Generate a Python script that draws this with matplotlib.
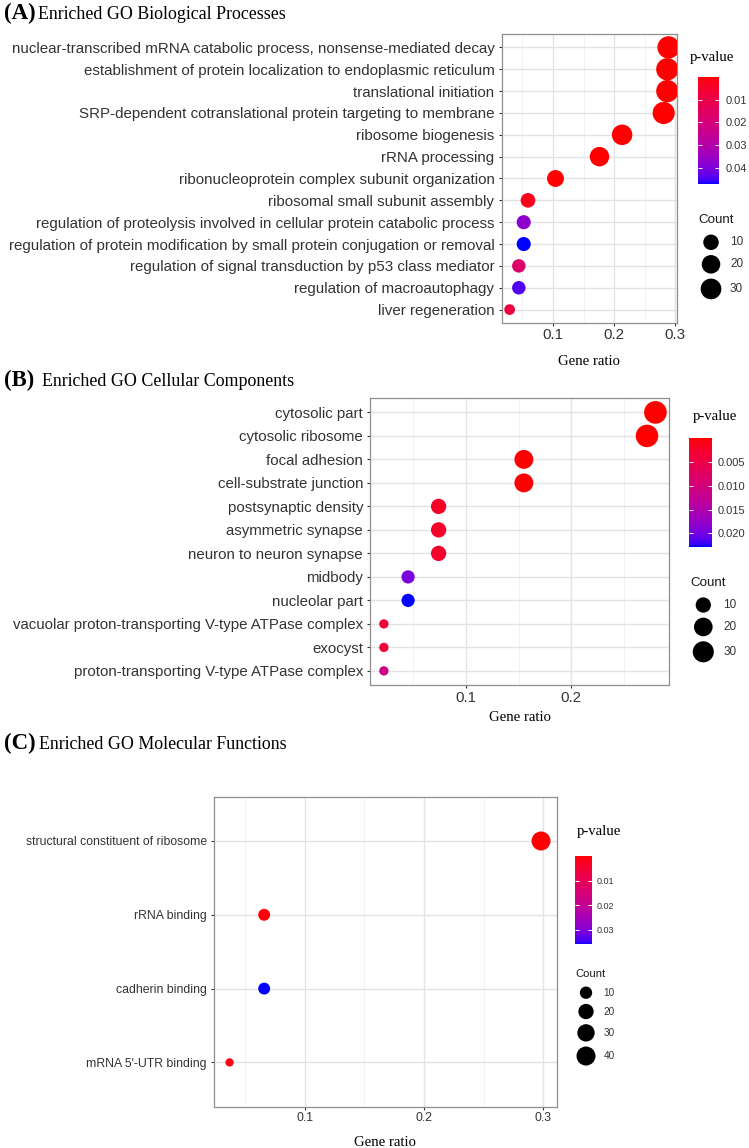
import numpy as np
import matplotlib
matplotlib.use('Agg')
import matplotlib.pyplot as plt
from matplotlib.colors import ListedColormap
from matplotlib.ticker import MultipleLocator, FormatStrFormatter

plt.rcParams['font.family'] = 'Liberation Sans'

W, H, DPI = 749, 1148, 100

# ---------------- data ----------------
# (A) biological processes, top to bottom
bp_terms = ['nuclear-transcribed mRNA catabolic process, nonsense-mediated decay',
            'establishment of protein localization to endoplasmic reticulum',
            'translational initiation',
            'SRP-dependent cotranslational protein targeting to membrane',
            'ribosome biogenesis',
            'rRNA processing',
            'ribonucleoprotein complex subunit organization',
            'ribosomal small subunit assembly',
            'regulation of proteolysis involved in cellular protein catabolic process',
            'regulation of protein modification by small protein conjugation or removal',
            'regulation of signal transduction by p53 class mediator',
            'regulation of macroautophagy',
            'liver regeneration']
bp_ratio = [0.289, 0.287, 0.287, 0.281, 0.213, 0.176, 0.104, 0.059, 0.052, 0.052, 0.044, 0.044, 0.029]
bp_count = [39, 39, 39, 38, 29, 24, 14, 8, 7, 7, 6, 6, 4]
bp_pval = [1e-20, 1e-18, 1e-17, 1e-16, 1e-9, 1e-7, 1e-4, 0.0025, 0.037, 0.047, 0.017, 0.044, 0.0085]
bp_cbar_ticks = [0.01, 0.02, 0.03, 0.04]
bp_size_legend = [10, 20, 30]

# (B) cellular components
cc_terms = ['cytosolic part', 'cytosolic ribosome', 'focal adhesion', 'cell-substrate junction',
            'postsynaptic density', 'asymmetric synapse', 'neuron to neuron synapse', 'midbody',
            'nucleolar part', 'vacuolar proton-transporting V-type ATPase complex', 'exocyst',
            'proton-transporting V-type ATPase complex']
cc_ratio = [0.280, 0.272, 0.155, 0.155, 0.074, 0.074, 0.074, 0.045, 0.045, 0.022, 0.022, 0.022]
cc_count = [38, 37, 21, 21, 10, 10, 10, 6, 6, 3, 3, 3]
cc_pval = [1e-15, 1e-14, 1e-6, 1e-6, 0.0022, 0.0023, 0.0024, 0.0195, 0.0228, 0.0035, 0.0037, 0.0112]
cc_cbar_ticks = [0.005, 0.010, 0.015, 0.020]
cc_size_legend = [10, 20, 30]

# (C) molecular functions
mf_terms = ['structural constituent of ribosome', 'rRNA binding', 'cadherin binding',
            "mRNA 5'-UTR binding"]
mf_ratio = [0.298, 0.066, 0.066, 0.037]
mf_count = [40, 9, 9, 5]
mf_pval = [1e-25, 0.0008, 0.0358, 0.001]
mf_cbar_ticks = [0.01, 0.02, 0.03]
mf_size_legend = [10, 20, 30, 40]


# ---------------- red -> blue gradient interpolated in CIELAB (like ggplot) ----------------
M = np.array([[0.4124, 0.3576, 0.1805], [0.2126, 0.7152, 0.0722], [0.0193, 0.1192, 0.9505]])
WHITE = np.array([0.95047, 1.0, 1.08883])
D = 6 / 29


def to_lab(rgb):
    c = np.asarray(rgb, float)
    lin = np.where(c <= 0.04045, c / 12.92, ((c + 0.055) / 1.055) ** 2.4)
    xyz = M @ lin / WHITE
    f = np.where(xyz > D ** 3, np.cbrt(xyz), xyz / (3 * D * D) + 4 / 29)
    return np.array([116 * f[1] - 16, 500 * (f[0] - f[1]), 200 * (f[1] - f[2])])


def from_lab(lab):
    fy = (lab[0] + 16) / 116
    f = np.array([fy + lab[1] / 500, fy, fy - lab[2] / 200])
    xyz = np.where(f > D, f ** 3, 3 * D * D * (f - 4 / 29)) * WHITE
    lin = np.clip(np.linalg.inv(M) @ xyz, 0, 1)
    c = np.where(lin <= 0.0031308, 12.92 * lin, 1.055 * lin ** (1 / 2.4) - 0.055)
    return np.clip(c, 0, 1)


lab_lo, lab_hi = to_lab([1, 0, 0]), to_lab([0, 0, 1])
cmap = ListedColormap([from_lab(lab_lo + t * (lab_hi - lab_lo)) for t in np.linspace(0, 1, 256)])


def px_rect(l, t, r, b):
    return [l / W, 1 - b / H, (r - l) / W, (b - t) / H]


def dot_size(c, counts, dmin, dmax):
    # ggplot-like area scale, returns marker area in pt^2
    c = np.asarray(c, float)
    d = dmin + (dmax - dmin) * np.sqrt((c - min(counts)) / (max(counts) - min(counts)))
    return (d * 72 / DPI) ** 2


fig = plt.figure(figsize=(W / DPI, H / DPI), dpi=DPI)


def dot_panel(rect, terms, ratio, count, pval, dmin, dmax, fs, xlab_y):
    ax = fig.add_axes(rect)
    y = np.arange(len(terms))[::-1]
    sc = ax.scatter(ratio, y, s=dot_size(count, count, dmin, dmax), c=pval, cmap=cmap,
                    vmin=min(pval), vmax=max(pval), linewidths=0, zorder=3)
    ax.set_yticks(y)
    ax.set_yticklabels(terms)
    ax.set_ylim(-0.6, len(terms) - 0.4)
    ax.margins(x=0.05)
    ax.xaxis.set_major_locator(MultipleLocator(0.1))
    ax.xaxis.set_minor_locator(MultipleLocator(0.05))
    ax.grid(True, which='major', color='#e3e3e3', lw=1.0)
    ax.grid(True, which='minor', axis='x', color='#f0f0f0', lw=0.6)
    ax.set_axisbelow(True)
    for s in ax.spines.values():
        s.set_color('#8f8f8f')
        s.set_linewidth(0.9)
    ax.tick_params(axis='both', which='major', length=2.5, width=0.8, color='#333333',
                   labelsize=fs, labelcolor='#333333')
    ax.tick_params(axis='y', pad=2.7)
    ax.tick_params(axis='x', pad=1.5)
    ax.tick_params(which='minor', length=0)
    ax.set_xlabel('Gene ratio', family='Liberation Serif', fontsize=10.6)
    ax.xaxis.set_label_coords(0.5, xlab_y)
    ax.xaxis.label.set_va('center')
    return sc


def pvalue_bar(sc, rect, ticks, fmt, fs, pad):
    cax = fig.add_axes(rect)
    cb = fig.colorbar(sc, cax=cax, ticks=ticks)
    cb.outline.set_visible(False)
    cb.minorticks_off()
    cax.invert_yaxis()
    cax.yaxis.set_major_formatter(FormatStrFormatter(fmt))
    cax.tick_params(direction='in', length=3, width=0.7, color='white', left=True, right=True,
                    labelsize=fs, labelcolor='#333333', pad=pad)


sc_a = dot_panel(px_rect(501.7, 34.3, 676.5, 322.7), bp_terms, bp_ratio, bp_count, bp_pval,
                 10.7, 22.3, 10.9, -0.136)
pvalue_bar(sc_a, px_rect(697.7, 76.7, 719.3, 184), bp_cbar_ticks, '%.2f', 8, 4.6)

sc_b = dot_panel(px_rect(370.3, 398.3, 669, 685), cc_terms, cc_ratio, cc_count, cc_pval,
                 9.3, 22.7, 10.8, -0.115)
pvalue_bar(sc_b, px_rect(689.3, 438.3, 711.7, 546.7), cc_cbar_ticks, '%.3f', 8, 4.3)

sc_c = dot_panel(px_rect(214, 796.7, 556.6, 1106.7), mf_terms, mf_ratio, mf_count, mf_pval,
                 8.3, 19.0, 8.8, -0.114)
pvalue_bar(sc_c, px_rect(574.8, 856, 591.5, 944.3), mf_cbar_ticks, '%.2f', 6.5, 4)

# overlay in pixel coordinates for titles and the Count legends
ov = fig.add_axes([0, 0, 1, 1])
ov.set_xlim(0, W)
ov.set_ylim(H, 0)
ov.axis('off')
ov.patch.set_alpha(0)

serif = 'Liberation Serif'
for lab, title, tx, base in [('(A)', 'Enriched GO Biological Processes', 38, 19),
                             ('(B)', 'Enriched GO Cellular Components', 42, 386),
                             ('(C)', 'Enriched GO Molecular Functions', 39, 749)]:
    ov.text(3.8, base, lab, family=serif, weight='bold', fontsize=16.5, va='baseline')
    ov.text(tx, base, title, family=serif, fontsize=12.9, va='baseline')

for x, y in [(690, 58), (693, 416.7), (577, 832)]:
    ov.text(x, y, 'p-value', family=serif, fontsize=10.6, va='center', ha='left')


def count_legend(values, counts, dmin, dmax, tx, ty, cx, y0, lx, tfs, lfs):
    ov.text(tx, ty, 'Count', fontsize=tfs, va='center', ha='left', color='#1a1a1a')
    s = dot_size(values, counts, dmin, dmax)
    d = np.sqrt(s) * DPI / 72
    h = d + 5
    ys = y0 + np.concatenate([[0], np.cumsum((h[:-1] + h[1:]) / 2)])
    ov.scatter([cx] * len(values), ys, s=s, c='black', linewidths=0)
    for v, yy in zip(values, ys):
        ov.text(lx, yy, str(v), fontsize=lfs, va='center', ha='left', color='#333333')


count_legend(bp_size_legend, bp_count, 10.7, 22.3, 698, 220, 711, 242.3, 730, 9.6, 8.5)
count_legend(cc_size_legend, cc_count, 9.3, 22.7, 690, 583.3, 703.3, 605, 723.3, 9.6, 8.5)
count_legend(mf_size_legend, mf_count, 8.3, 19.0, 575, 974, 586, 992.7, 603.3, 8.1, 7.2)

fig.savefig('out.png', dpi=DPI)
